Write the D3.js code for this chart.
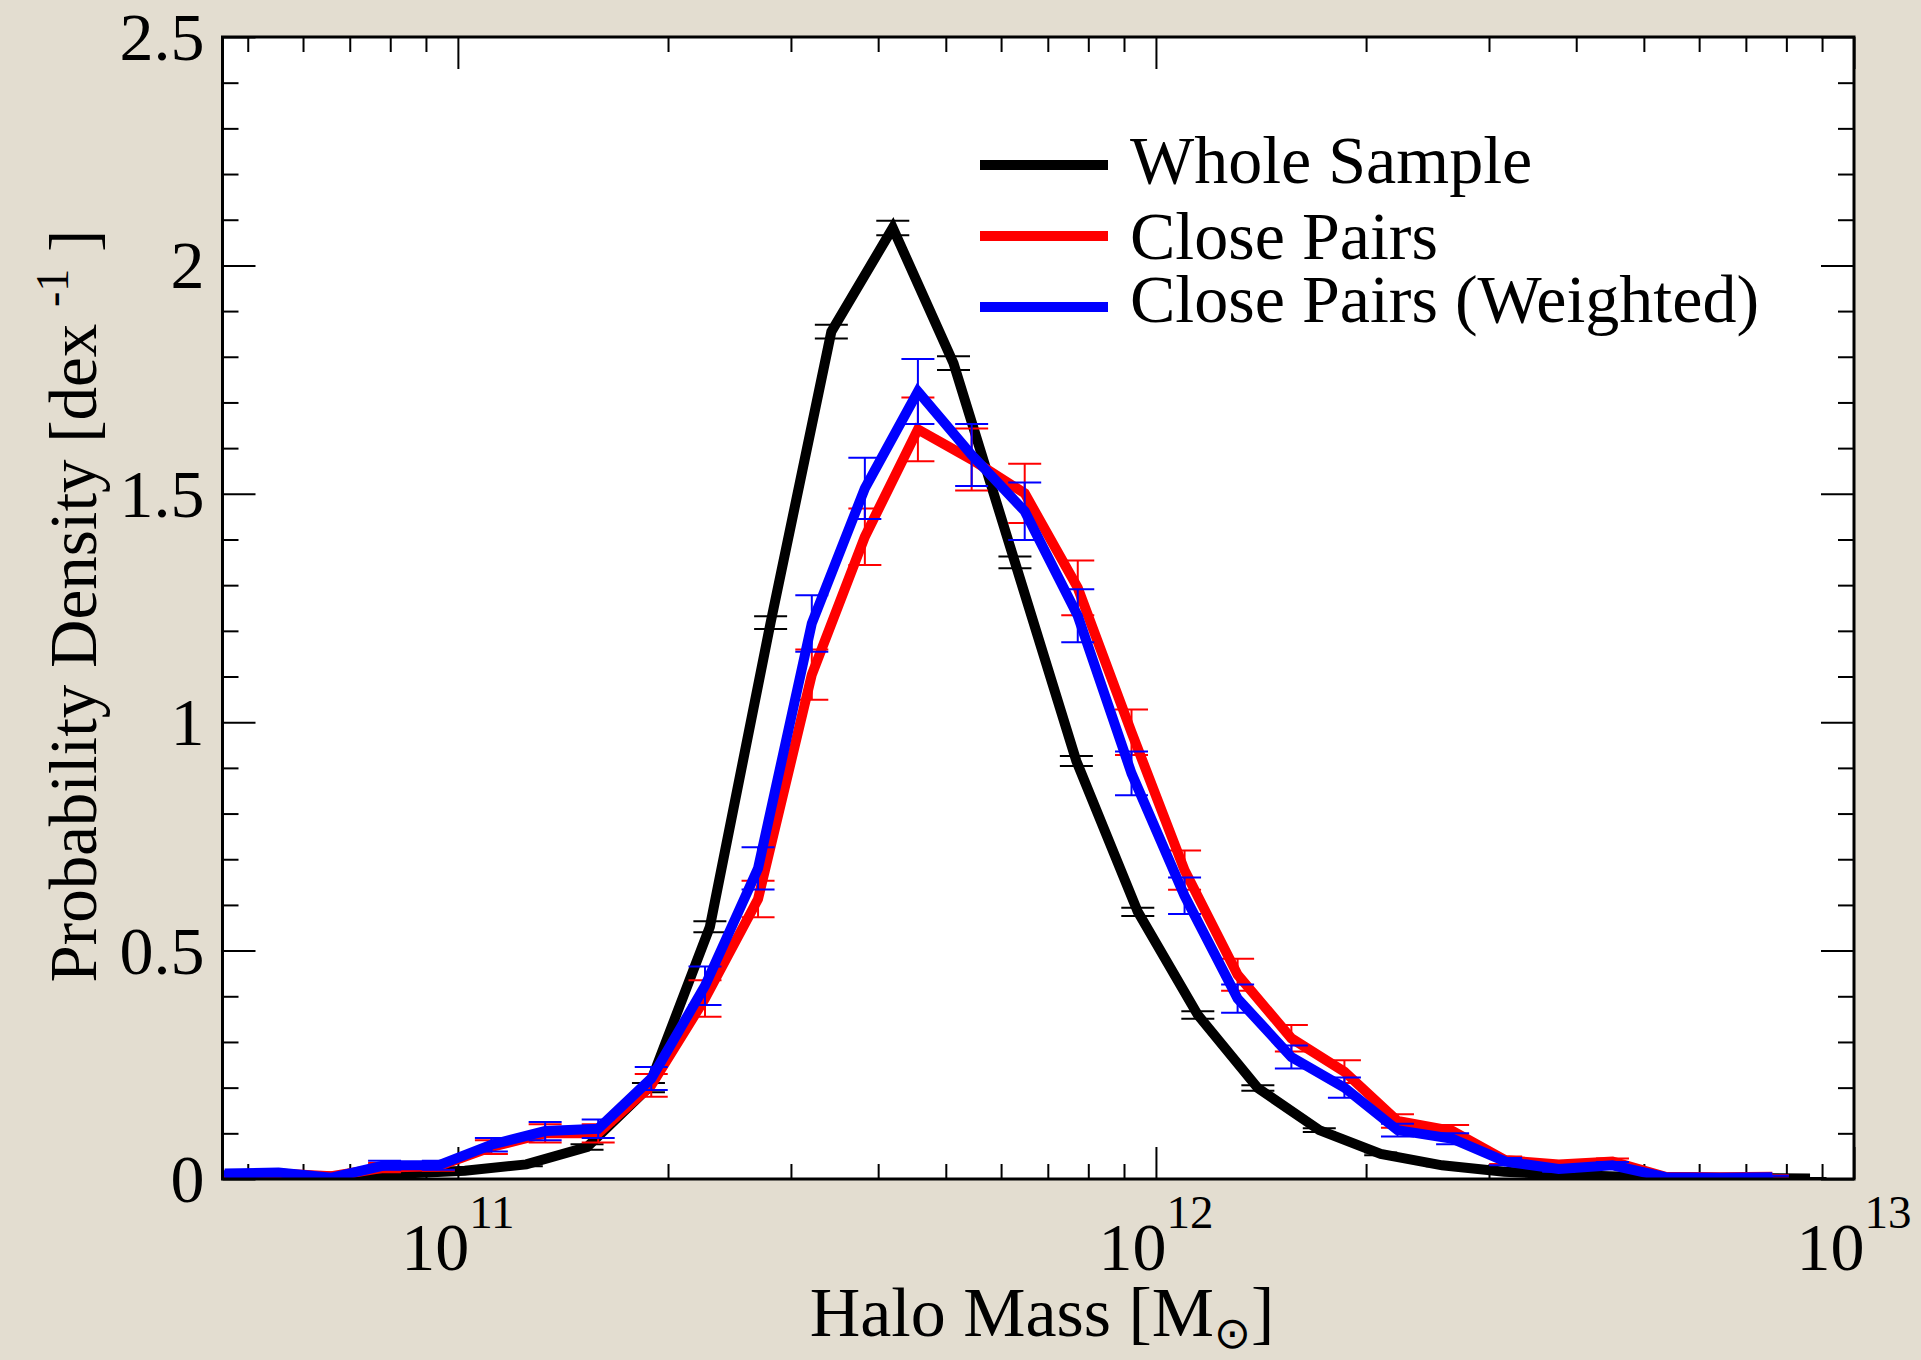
<!DOCTYPE html>
<html>
<head>
<meta charset="utf-8">
<script src="https://cdn.jsdelivr.net/npm/d3@7"></script>
<style>
  body { margin: 0; background: #e3ddd0; }
  svg text { font-family: "Liberation Serif", "Times New Roman", serif; fill: #000; }
</style>
</head>
<body>
<div id="chart"></div>
<script>
// bin centres, log10(M / Msun)
var wholeLogM = [10.660, 10.747, 10.835, 10.923, 11.010, 11.098, 11.185, 11.273, 11.361, 11.448,
                 11.535, 11.623, 11.710, 11.798, 11.886, 11.974, 12.060, 12.146, 12.234, 12.322,
                 12.410, 12.499, 12.587, 12.675, 12.762, 12.850, 12.937];
var wholePdf  = [0.003, 0.004, 0.006, 0.012, 0.018, 0.032, 0.070, 0.200, 0.552, 1.218,
                 1.855, 2.082, 1.786, 1.350, 0.915, 0.585, 0.359, 0.199, 0.107, 0.055,
                 0.030, 0.016, 0.009, 0.005, 0.003, 0.002, 0.001];
var wholeErr  = [0.001, 0.001, 0.002, 0.002, 0.003, 0.004, 0.006, 0.010, 0.012, 0.014,
                 0.015, 0.016, 0.015, 0.013, 0.011, 0.009, 0.008, 0.006, 0.004, 0.003,
                 0.002, 0.002, 0.001, 0.001, 0.001, 0.001, 0.001];

var pairLogM  = [10.666, 10.743, 10.819, 10.895, 10.972, 11.048, 11.125, 11.201, 11.277, 11.354,
                 11.430, 11.507, 11.583, 11.659, 11.736, 11.812, 11.888, 11.965, 12.041, 12.117,
                 12.194, 12.270, 12.346, 12.425, 12.501, 12.577, 12.654, 12.730, 12.807, 12.883];
var pairPdf   = [0.010, 0.012, 0.006, 0.025, 0.028, 0.070, 0.100, 0.100, 0.205, 0.395,
                 0.613, 1.104, 1.406, 1.641, 1.575, 1.501, 1.294, 0.978, 0.676, 0.447,
                 0.308, 0.235, 0.127, 0.105, 0.041, 0.032, 0.038, 0.005, 0.004, 0.005];
var pairErr   = [0.005, 0.005, 0.004, 0.010, 0.010, 0.015, 0.020, 0.020, 0.025, 0.040,
                 0.040, 0.055, 0.062, 0.070, 0.068, 0.065, 0.060, 0.050, 0.043, 0.035,
                 0.029, 0.025, 0.015, 0.013, 0.008, 0.007, 0.007, 0.003, 0.003, 0.003];
var weightPdf = [0.012, 0.014, 0.003, 0.030, 0.030, 0.075, 0.105, 0.110, 0.220, 0.423,
                 0.680, 1.216, 1.512, 1.724, 1.585, 1.462, 1.233, 0.888, 0.620, 0.395,
                 0.267, 0.200, 0.107, 0.088, 0.038, 0.022, 0.030, 0.004, 0.003, 0.004];
var weightErr = [0.005, 0.005, 0.004, 0.010, 0.010, 0.015, 0.020, 0.020, 0.025, 0.042,
                 0.046, 0.062, 0.067, 0.071, 0.068, 0.063, 0.058, 0.048, 0.040, 0.031,
                 0.025, 0.022, 0.014, 0.012, 0.008, 0.006, 0.007, 0.003, 0.003, 0.003];

var seriesNames = ["Whole Sample", "Close Pairs", "Close Pairs (Weighted)"];
var seriesColors = ["#000000", "#ff0000", "#0000ff"];
var yTickLabels = ["0", "0.5", "1", "1.5", "2", "2.5"];
var xMajorExp = [11, 12, 13];

var margin = {top: 37, right: 67, bottom: 181, left: 222.5},
    width = 1921 - margin.left - margin.right,
    height = 1360 - margin.top - margin.bottom;

var x = d3.scaleLog().domain([Math.pow(10, 10.6628), 1e13]).range([0, width]);
var y = d3.scaleLinear().domain([0, 2.5]).range([height, 0]);

var svgRoot = d3.select("#chart").append("svg")
    .attr("width", 1921)
    .attr("height", 1360);

svgRoot.append("rect").attr("width", 1921).attr("height", 1360).attr("fill", "#e3ddd0");

var svg = svgRoot.append("g")
    .attr("transform", "translate(" + margin.left + "," + margin.top + ")");

svg.append("rect").attr("width", width).attr("height", height).attr("fill", "#fff");

svg.append("clipPath").attr("id", "plotclip")
  .append("rect").attr("width", width).attr("height", height);

// tick positions
var xMajor = xMajorExp.map(function(e) { return Math.pow(10, e); });
var xMinor = [];
[1e10, 1e11, 1e12].forEach(function(d) {
    for (var k = 2; k <= 9; k++) {
        var v = k * d;
        if (v >= x.domain()[0] && v <= x.domain()[1]) xMinor.push(v);
    }
});
var yMajor = yTickLabels.map(Number);
var yMinor = d3.range(1, 25).map(function(i) { return i / 10; })
    .filter(function(v) { return Math.abs(v * 2 - Math.round(v * 2)) > 1e-6; });

function ticks(g) {
    g.select(".domain").remove();
    g.selectAll("line").attr("stroke-width", 2);
}

svg.append("g").attr("transform", "translate(0," + height + ")")
    .call(d3.axisBottom(x).tickValues(xMinor).tickSize(-15).tickSizeOuter(0).tickFormat("")).call(ticks);
svg.append("g").attr("transform", "translate(0," + height + ")")
    .call(d3.axisBottom(x).tickValues(xMajor).tickSize(-32).tickSizeOuter(0).tickFormat("")).call(ticks);
svg.append("g")
    .call(d3.axisTop(x).tickValues(xMinor).tickSize(-15).tickSizeOuter(0).tickFormat("")).call(ticks);
svg.append("g")
    .call(d3.axisTop(x).tickValues(xMajor).tickSize(-32).tickSizeOuter(0).tickFormat("")).call(ticks);
svg.append("g")
    .call(d3.axisLeft(y).tickValues(yMinor).tickSize(-16).tickSizeOuter(0).tickFormat("")).call(ticks);
svg.append("g")
    .call(d3.axisLeft(y).tickValues(yMajor).tickSize(-33).tickSizeOuter(0).tickFormat("")).call(ticks);
svg.append("g").attr("transform", "translate(" + width + ",0)")
    .call(d3.axisRight(y).tickValues(yMinor).tickSize(-16).tickSizeOuter(0).tickFormat("")).call(ticks);
svg.append("g").attr("transform", "translate(" + width + ",0)")
    .call(d3.axisRight(y).tickValues(yMajor).tickSize(-33).tickSizeOuter(0).tickFormat("")).call(ticks);

// tick labels
svg.selectAll(".ylab").data(yMajor).enter().append("text")
    .attr("x", -18)
    .attr("y", function(d) { return y(d) + 23; })
    .attr("text-anchor", "end")
    .attr("font-size", 68)
    .text(function(d, i) { return yTickLabels[i]; });

var xl = svg.selectAll(".xlab").data(xMajorExp).enter().append("text")
    .attr("x", function(d) { return x(Math.pow(10, d)); })
    .attr("y", height + 91)
    .attr("text-anchor", "middle")
    .attr("font-size", 68);
xl.append("tspan").text("10");
xl.append("tspan").attr("dy", -42).attr("font-size", 47).text(function(d) { return d; });

// series
var sets = [
    {lm: wholeLogM, v: wholePdf, e: wholeErr},
    {lm: pairLogM, v: pairPdf, e: pairErr},
    {lm: pairLogM, v: weightPdf, e: weightErr}
].map(function(s, i) {
    return {
        color: seriesColors[i],
        pts: s.lm.map(function(m, j) { return {m: Math.pow(10, m), v: s.v[j], e: s.e[j]}; })
    };
});

var line = d3.line()
    .x(function(d) { return x(d.m); })
    .y(function(d) { return y(d.v); });

var plot = svg.append("g").attr("clip-path", "url(#plotclip)");

sets.forEach(function(s) {
    plot.append("path")
        .datum(s.pts)
        .attr("fill", "none")
        .attr("stroke", s.color)
        .attr("stroke-width", 10)
        .attr("stroke-linejoin", "miter")
        .attr("d", line);

    var eb = plot.append("g").attr("stroke", s.color).attr("stroke-width", 2);
    eb.selectAll(".v").data(s.pts).enter().append("line")
        .attr("x1", function(d) { return x(d.m); })
        .attr("x2", function(d) { return x(d.m); })
        .attr("y1", function(d) { return y(d.v - d.e); })
        .attr("y2", function(d) { return y(d.v + d.e); });
    [-1, 1].forEach(function(sg) {
        eb.selectAll(".c").data(s.pts).enter().append("line")
            .attr("x1", function(d) { return x(d.m) - 16.5; })
            .attr("x2", function(d) { return x(d.m) + 16.5; })
            .attr("y1", function(d) { return y(d.v + sg * d.e); })
            .attr("y2", function(d) { return y(d.v + sg * d.e); });
    });
});

// frame
svg.append("rect").attr("width", width).attr("height", height)
    .attr("fill", "none").attr("stroke", "#000").attr("stroke-width", 3);

// legend
var legLineY = [128, 199, 270];
var legTextY = [146, 222, 285];
seriesNames.forEach(function(name, i) {
    svg.append("line")
        .attr("x1", 757.5).attr("x2", 885.5)
        .attr("y1", legLineY[i]).attr("y2", legLineY[i])
        .attr("stroke", seriesColors[i]).attr("stroke-width", 10);
    svg.append("text")
        .attr("x", 907.5).attr("y", legTextY[i])
        .attr("font-size", 68)
        .text(name);
});

// axis titles
var xt = svgRoot.append("text")
    .attr("x", 1042).attr("y", 1336)
    .attr("text-anchor", "middle")
    .attr("font-size", 70);
xt.append("tspan").text("Halo Mass [M");
xt.append("tspan").attr("dy", 12).attr("font-size", 44).attr("font-family", "DejaVu Sans").text("\u2299");
xt.append("tspan").attr("dy", -12).text("]");

var yt = svgRoot.append("text")
    .attr("transform", "translate(96,606) rotate(-90)")
    .attr("text-anchor", "middle")
    .attr("font-size", 67);
yt.append("tspan").text("Probability Density [dex ");
yt.append("tspan").attr("dy", -28).attr("font-size", 46).text("-1");
yt.append("tspan").attr("dy", 28).text(" ]");
</script>
</body>
</html>
